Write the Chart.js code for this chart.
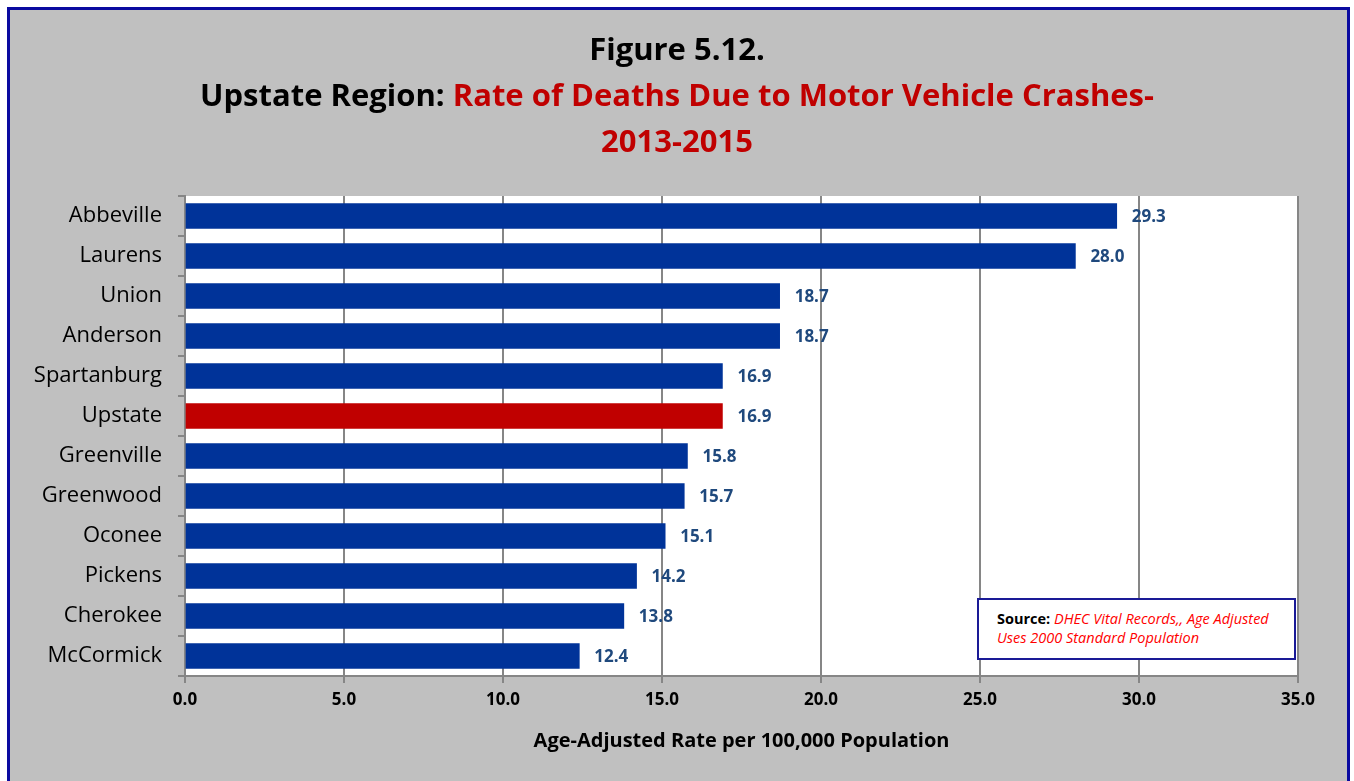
<!DOCTYPE html>
<html>
<head>
<meta charset="utf-8">
<script src="https://cdn.jsdelivr.net/npm/chart.js@4.4.0/dist/chart.umd.min.js"></script>
<style>
  html, body { margin: 0; padding: 0; background: #fff; }
  body { width: 1354px; height: 781px; position: relative; overflow: hidden; font-family: "Open Sans", Lato, sans-serif; }
  #frame {
    position: absolute; left: 7px; top: 7px; width: 1337px; height: 790px;
    background: #c0c0c0; border: 3px solid #0a0aa0;
  }
  #title {
    position: absolute; left: 0; top: 25px; width: 1354px; text-align: center;
    font-weight: bold; font-size: 31px; line-height: 46px; color: #000;
  }
  #title .red { color: #c00000; }
  #chartBox { position: absolute; left: 0; top: 0; width: 1354px; height: 781px; }
  #source {
    position: absolute; left: 977px; top: 598px; width: 315px; height: 58px;
    background: #fff; border: 2px solid #1a1a96; box-sizing: content-box;
    font-size: 14.5px; line-height: 19px; padding: 0;
  }
  #source .inner { position: absolute; left: 18px; top: 9px; white-space: nowrap; }
  #source b { color: #000; }
  #source i { color: #ff0000; }
</style>
</head>
<body>
<div id="frame"></div>
<div id="chartBox"><canvas id="crashBar" width="1354" height="781"></canvas></div>
<div id="title">
  Figure 5.12.<br>
  Upstate Region: <span class="red">Rate of Deaths Due to Motor Vehicle Crashes-</span><br>
  <span class="red">2013-2015</span>
</div>
<div id="source"><div class="inner"><b>Source:</b> <i>DHEC Vital Records,, Age Adjusted<br>Uses 2000 Standard Population</i></div></div>
<script>
//data
const counties = ['Abbeville', 'Laurens', 'Union', 'Anderson', 'Spartanburg', 'Upstate',
    'Greenville', 'Greenwood', 'Oconee', 'Pickens', 'Cherokee', 'McCormick'];
const rates = [29.3, 28.0, 18.7, 18.7, 16.9, 16.9, 15.8, 15.7, 15.1, 14.2, 13.8, 12.4];
const xTicks = [0, 5, 10, 15, 20, 25, 30, 35];

const fontFamily = '"Open Sans", Lato, sans-serif';

//red for the region bar, blue for counties
const barColors = counties.map(c => c === 'Upstate' ? '#c00000' : '#003399');

//white plot background
const plotBg = {
    id: 'plotBg',
    beforeDraw(chart) {
        const a = chart.chartArea;
        const ctx = chart.ctx;
        ctx.save();
        ctx.fillStyle = '#ffffff';
        ctx.fillRect(a.left, a.top, a.right - a.left, a.bottom - a.top);
        ctx.restore();
    }
};

//value labels at the bar ends
const valueLabels = {
    id: 'valueLabels',
    afterDatasetsDraw(chart) {
        const ctx = chart.ctx;
        const meta = chart.getDatasetMeta(0);
        ctx.save();
        ctx.font = 'bold 17px ' + fontFamily;
        ctx.fillStyle = '#1f497d';
        ctx.textAlign = 'left';
        ctx.textBaseline = 'middle';
        meta.data.forEach((bar, i) => {
            ctx.fillText(rates[i].toFixed(1), bar.x + 15, bar.y + 1);
        });
        ctx.restore();
    }
};

var ctx = document.getElementById('crashBar').getContext('2d');
const crashBar = new Chart(ctx, {
    type: 'bar',
    data: {
        labels: counties,
        datasets: [{
            data: rates,
            backgroundColor: barColors,
            borderWidth: 0,
            barThickness: 25
        }]
    },
    options: {
        indexAxis: 'y',
        responsive: false,
        animation: false,
        layout: { padding: { left: 0, right: 56, top: 196, bottom: 28 } },
        plugins: {
            legend: { display: false },
            tooltip: { enabled: false }
        },
        scales: {
            x: {
                min: 0,
                max: 35,
                afterBuildTicks(scale) {
                    scale.ticks = xTicks.map(v => ({ value: v }));
                },
                afterFit(scale) { scale.height = 77; },
                ticks: {
                    color: '#000',
                    font: { family: fontFamily, size: 17, weight: 'bold' },
                    padding: 7,
                    callback: v => Number(v).toFixed(1)
                },
                grid: { color: '#868686', lineWidth: 2, tickLength: 7 },
                border: { color: '#868686', width: 2 },
                title: {
                    display: true,
                    text: 'Age-Adjusted Rate per 100,000 Population',
                    color: '#000',
                    font: { family: fontFamily, size: 20, weight: 'bold' },
                    padding: { top: 10, bottom: 0 }
                }
            },
            y: {
                afterFit(scale) { scale.width = 185; },
                ticks: {
                    color: '#000',
                    font: { family: fontFamily, size: 22 },
                    padding: 16
                },
                grid: { offset: true, drawOnChartArea: false, color: '#868686', lineWidth: 2, tickLength: 7 },
                border: { color: '#868686', width: 2 }
            }
        }
    },
    plugins: [plotBg, valueLabels]
});
</script>
</body>
</html>
